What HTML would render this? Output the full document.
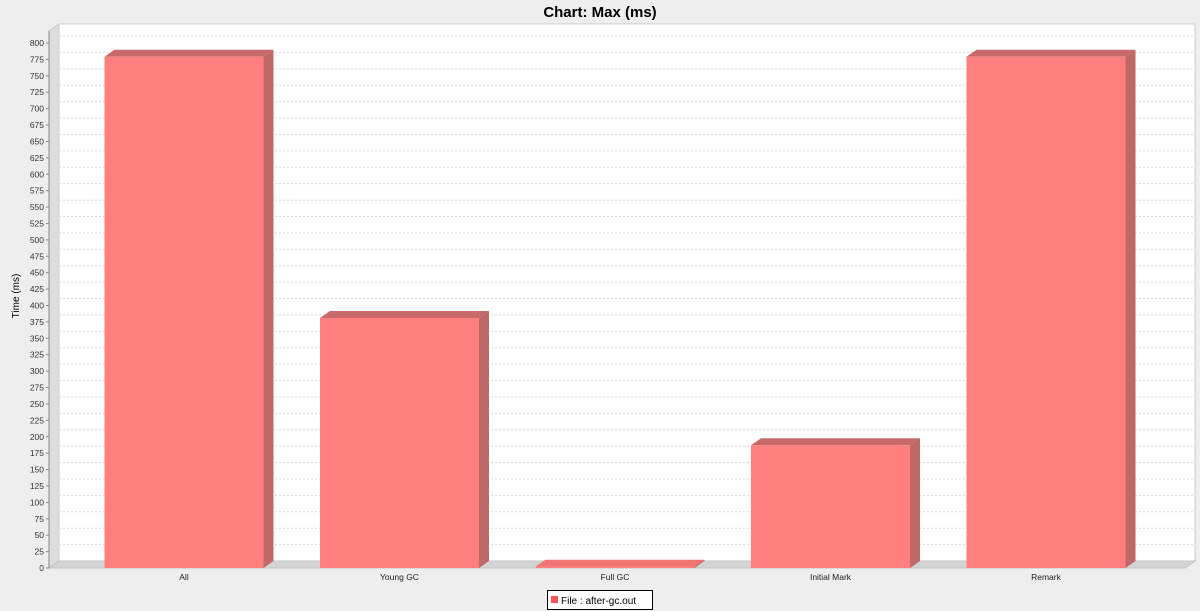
<!DOCTYPE html>
<html><head><meta charset="utf-8"><style>
body{margin:0;background:#eeeeee;font-family:"Liberation Sans",sans-serif}
svg{display:block}
</style></head><body>
<svg id="c" width="1200" height="611" xmlns="http://www.w3.org/2000/svg">
<rect width="1200" height="611" fill="#eeeeee"/>
<text x="600" y="17" text-anchor="middle" font-size="15" font-weight="bold" fill="#000">Chart: Max (ms)</text>
<g id="plot"></g>
<text transform="translate(19,296) rotate(-90)" text-anchor="middle" font-size="10" fill="#000">Time (ms)</text>
<g>
<rect x="547.5" y="590.5" width="105" height="19" fill="#fff" stroke="#000"/>
<rect x="551" y="596" width="7" height="7" fill="#ff5555"/>
<text x="561" y="604" font-size="10" fill="#000">File : after-gc.out</text>
</g>
</svg>
<script>
const categories=["All","Young GC","Full GC","Initial Mark","Remark"];
const values=[779,381,2,187,779];
const ticks=[0,25,50,75,100,125,150,175,200,225,250,275,300,325,350,375,400,425,450,475,500,525,550,575,600,625,650,675,700,725,750,775,800];
const NS="http://www.w3.org/2000/svg";
const g=document.getElementById('plot');
const y0=568,k=525/800,dx=10,dy=7,L=49,R=1185;
const yS=v=>y0-v*k;
const band=215.5, bw=159;
const xC=i=>76.25+band*(i+0.5);
function el(t,a,p){const e=document.createElementNS(NS,t);for(const n in a)e.setAttribute(n,a[n]);(p||g).appendChild(e);return e;}
el('rect',{x:L+dx,y:24,width:R-L,height:y0-dy-24,fill:'#fff',stroke:'#cccccc'});
el('polygon',{points:`${L},31 ${L+dx},24 ${L+dx},${y0-dy} ${L},${y0}`,fill:'#dddddd',stroke:'#cccccc'});
el('polygon',{points:`${L},${y0} ${L+dx},${y0-dy} ${R+dx},${y0-dy} ${R},${y0}`,fill:'#d4d4d4',stroke:'#c4c4c4'});
ticks.forEach(t=>{
  const y=yS(t);
  if(t>0){const gl=el('line',{x1:L+dx,x2:R+dx,y1:y-dy,y2:y-dy,stroke:'#d8d8d8','stroke-dasharray':'2,2'});
  
  }
  el('line',{x1:L-3,x2:L,y1:y,y2:y,stroke:'#888'});
  const tx=el('text',{x:L-5,y:y+3,'text-anchor':'end','font-size':'8.5',fill:'#333'});tx.textContent=t;
  
  
});
el('line',{x1:L,x2:L,y1:31,y2:y0,stroke:'#888'});
categories.forEach((c,i)=>{
  const xl=xC(i)-bw/2,xr=xl+bw,yt=yS(values[i]);
  const b=el('g',{});
  
  
  const small=values[i]<5;
  el('polygon',{points:`${xl},${yt} ${xl+dx},${yt-dy} ${xr+dx},${yt-dy} ${xr},${yt}`,fill:small?'#f07474':'#c86a6a'},b);
  el('polygon',{points:`${xr},${yt} ${xr+dx},${yt-dy} ${xr+dx},${y0-dy} ${xr},${y0}`,fill:'#c06868'},b);
  el('rect',{x:xl,y:yt,width:bw,height:y0-yt,fill:'#ff7f7f'},b);
  const lb=el('text',{x:xC(i),y:580,'text-anchor':'middle','font-size':'8.5',fill:'#222'});lb.textContent=c;
  
  
});
</script>
</body></html>
